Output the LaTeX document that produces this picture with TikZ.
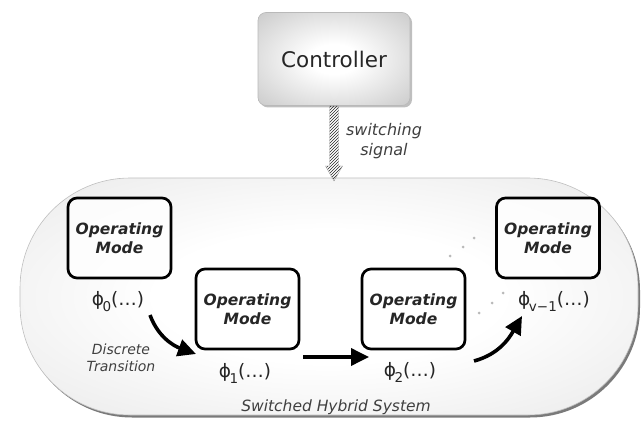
\documentclass[tikz,border=0pt]{standalone}
\usepackage{fontspec}
\setmainfont{DejaVu Sans}
\usetikzlibrary{arrows.meta,shadows,patterns,calc}
\newcommand\phisub[1]{ϕ\kern-1.5pt\raisebox{-6pt}{\fontsize{13.5}{13.5}\selectfont #1}(…)}
\pgfdeclareradialshading{sysshade}{\pgfpoint{0bp}{0bp}}{color(0bp)=(white); color(14bp)=(white); color(35bp)=(black!8); color(50bp)=(black!24); color(70bp)=(black!32)}
\pgfdeclareradialshading{ctrlshade}{\pgfpoint{0bp}{0bp}}{color(0bp)=(white); color(8bp)=(white); color(35bp)=(black!20); color(50bp)=(black!32); color(70bp)=(black!45)}
\begin{document}
\begin{tikzpicture}[x=1pt,y=-1pt,
  sysbox/.style={draw=gray!50, line width=0.6pt, rounded corners=110pt,
    shading=sysshade,
    drop shadow={shadow xshift=2pt, shadow yshift=-2.5pt, opacity=0.65, fill=black!80},
    minimum width=618pt, minimum height=237pt, inner sep=0pt},
  ctrlbox/.style={draw=gray!55, line width=0.6pt, rounded corners=8pt,
    shading=ctrlshade,
    drop shadow={shadow xshift=2pt, shadow yshift=-2pt, opacity=0.5},
    minimum width=152pt, minimum height=93pt, inner sep=0pt,
    font=\fontsize{21.5}{25}\selectfont, text=black!85},
  modebox/.style={draw=black, line width=2.7pt, rounded corners=9pt,
    fill=white, fill opacity=0.8, text opacity=1,
    minimum width=103pt, minimum height=80pt, align=center, inner sep=0pt,
    font=\fontsize{15.5}{18.5}\selectfont\bfseries\itshape, text=black!85},
  philab/.style={font=\fontsize{18.5}{20}\selectfont, inner sep=0pt, text=black!85},
  note/.style={font=\fontsize{14}{17}\selectfont\itshape, text=black!75, align=center, inner sep=0pt},
  trans/.style={line width=3.6pt, -{Triangle[length=18pt,width=17pt]}},
  dotmark/.style={circle, fill=gray!55, inner sep=0pt, minimum size=3pt}
]
\useasboundingbox (0,0) rectangle (642,422);

% switched hybrid system
\node[sysbox] (sys) at (329,296.5) {};
\node[note, font=\fontsize{15.5}{17}\selectfont\itshape] (systxt) at (336,407) {Switched Hybrid System};

% controller
\node[ctrlbox] (ctrl) at (334,59) {Controller};

% switching signal (hatched arrow)
\coordinate (sigend) at (334,181);
\path[pattern=north east lines, pattern color=black!85, draw=gray!70, line width=0.4pt]
  ($(ctrl.south)+(-4.5,0)$) -- ($(sigend)+(-4.5,-15)$) -- ($(sigend)+(-8.5,-15)$) -- (sigend)
  -- ($(sigend)+(8.5,-15)$) -- ($(sigend)+(4.5,-15)$) -- ($(ctrl.south)+(4.5,0)$) -- cycle;
\node[note, font=\fontsize{16}{20}\selectfont\itshape] (sigtxt) at (384,141) {switching\\signal};

% operating modes
\node[modebox] (m0) at (119.5,238) {Operating\\Mode};
\node[modebox] (m1) at (247.5,309) {Operating\\Mode};
\node[modebox] (m2) at (413.5,309) {Operating\\Mode};
\node[modebox] (m3) at (548,238) {Operating\\Mode};

\node[philab] (p0) at (118,302) {\phisub{0}};
\node[philab] (p1) at (245,373) {\phisub{1}};
\node[philab] (p2) at (410,372) {\phisub{2}};
\node[philab] (p3) at (554,301) {\phisub{v−1}};

\node[note] (dtxt) at (121,358) {Discrete\\Transition};

% transitions
\coordinate (a0s) at (150,315);
\coordinate (a0e) at (196,354);
\coordinate (a1s) at (303,357);
\coordinate (a1e) at (369,357);
\coordinate (a2s) at (474,361);
\coordinate (a2e) at (522,316);
\draw[trans] (a0s) to[out=-70, in=160] (a0e);
\draw[trans] (a1s) -- (a1e);
\draw[trans] (a2s) to[out=15, in=-120] (a2e);

% dots
\foreach \n/\x/\y in {d1/450/256, d2/463/247, d3/474/238, d4/479/313, d5/492/303, d6/503/293}
  \node[dotmark] (\n) at (\x,\y) {};
\end{tikzpicture}
\end{document}
